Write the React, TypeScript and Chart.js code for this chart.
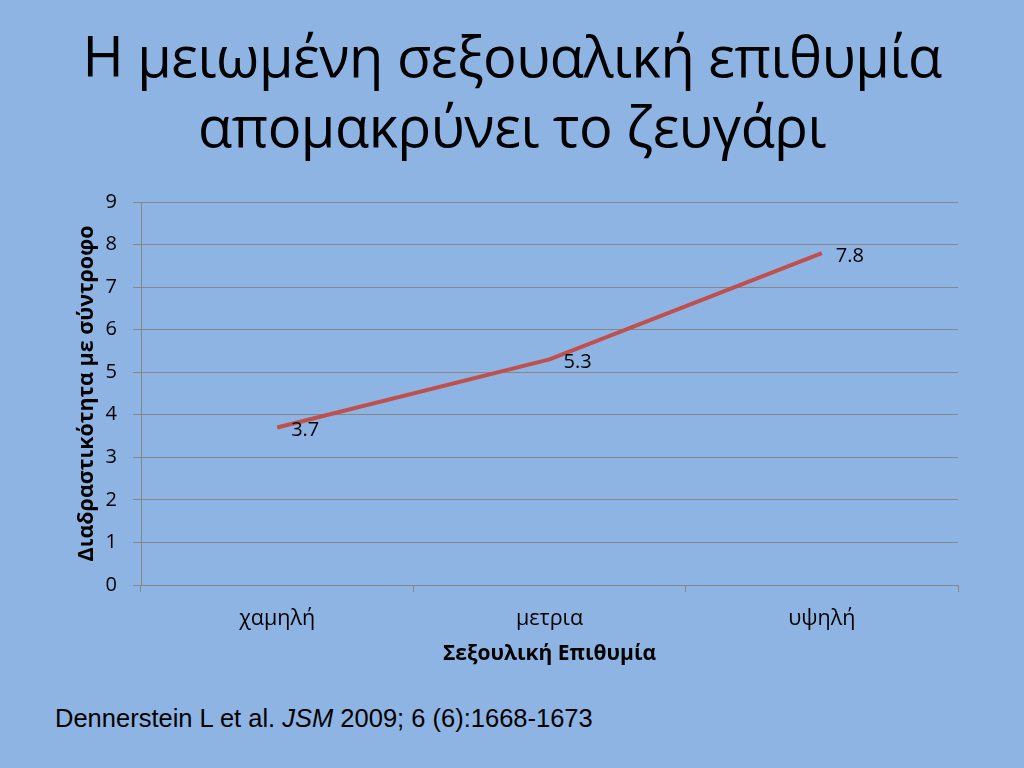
import React, { useEffect, useRef } from "react";
import { Chart, registerables } from "chart.js";

Chart.register(...registerables);

const categories = ["χαμηλή", "μετρια", "υψηλή"];
const values = [3.7, 5.3, 7.8];
const yTicks = [0, 1, 2, 3, 4, 5, 6, 7, 8, 9];
const titleLines = ["Η μειωμένη σεξουαλική επιθυμία", "απομακρύνει το ζευγάρι"];
const xTitle = "Σεξουλική Επιθυμία";
const yTitle = "Διαδραστικότητα με σύντροφο";

const FONT = "'Open Sans', 'Noto Sans', sans-serif";

const labelPlugin = {
  id: "pointLabels",
  afterDatasetsDraw(chart: any) {
    const ctx = chart.ctx;
    const meta = chart.getDatasetMeta(0);
    ctx.save();
    ctx.font = `20px ${FONT}`;
    ctx.fillStyle = "#000";
    ctx.textAlign = "left";
    ctx.textBaseline = "middle";
    meta.data.forEach((pt: any, i: number) => {
      ctx.fillText(String(values[i]), pt.x + 14, pt.y + 3);
    });
    ctx.restore();
  },
};

export default function App() {
  const ref = useRef<HTMLCanvasElement | null>(null);
  useEffect(() => {
    if (!ref.current) return;
    const chart = new Chart(ref.current, {
      type: "line",
      data: {
        labels: categories,
        datasets: [
          {
            data: values,
            borderColor: "#C0504D",
            borderWidth: 4,
            pointRadius: 0,
            tension: 0,
            fill: false,
          },
        ],
      },
      options: {
        animation: false,
        responsive: false,
        maintainAspectRatio: false,
        layout: { padding: { top: 0, right: 22, bottom: 0, left: 0 } },
        plugins: { legend: { display: false }, tooltip: { enabled: false } },
        scales: {
          x: {
            offset: true,
            grid: {
              offset: true,
              drawOnChartArea: false,
              drawTicks: true,
              tickLength: 7,
              color: "#868686",
            },
            border: { display: false },
            ticks: { color: "#000", font: { family: FONT, size: 21.5 }, padding: 14 },
            title: {
              display: true,
              text: xTitle,
              color: "#000",
              font: { family: FONT, size: 21, weight: "bold" },
              padding: { top: 0, bottom: 3 },
            },
            afterFit(scale: any) {
              scale.height = 85;
            },
          },
          y: {
            min: 0,
            max: 9,
            afterBuildTicks(scale: any) {
              scale.ticks = yTicks.map((v) => ({ value: v }));
            },
            grid: { color: "#868686", tickLength: 8, lineWidth: 1 },
            border: { display: true, color: "#868686" },
            ticks: { color: "#000", font: { family: FONT, size: 20 }, padding: 16 },
            title: {
              display: true,
              text: yTitle,
              color: "#000",
              font: { family: FONT, size: 21.5, weight: "bold" },
              padding: { top: 14, bottom: 0 },
            },
            afterFit(scale: any) {
              scale.width = 81;
            },
          },
        },
      },
      plugins: [labelPlugin],
    });
    return () => chart.destroy();
  }, []);

  return (
    <div
      style={{
        position: "fixed",
        left: 0,
        top: 0,
        width: 1024,
        height: 768,
        background: "#8EB4E3",
        overflow: "hidden",
      }}
    >
      <div
        style={{
          position: "absolute",
          left: 0,
          top: 20,
          width: 1024,
          textAlign: "center",
          fontFamily: FONT,
          fontSize: 56,
          lineHeight: "70px",
          color: "#000",
          letterSpacing: "-0.5px",
        }}
      >
        {titleLines.map((t, i) => (
          <div key={i}>{t}</div>
        ))}
      </div>
      <canvas
        ref={ref}
        width={920}
        height={496}
        style={{ position: "absolute", left: 60, top: 174, width: 920, height: 496 }}
      />
      <div
        style={{
          position: "absolute",
          left: 55,
          top: 704,
          fontFamily: "'Liberation Sans', Arial, sans-serif",
          fontSize: 25.5,
          color: "#000",
          whiteSpace: "nowrap",
        }}
      >
        Dennerstein L et al. <i>JSM</i> 2009; 6 (6):1668-1673
      </div>
    </div>
  );
}
